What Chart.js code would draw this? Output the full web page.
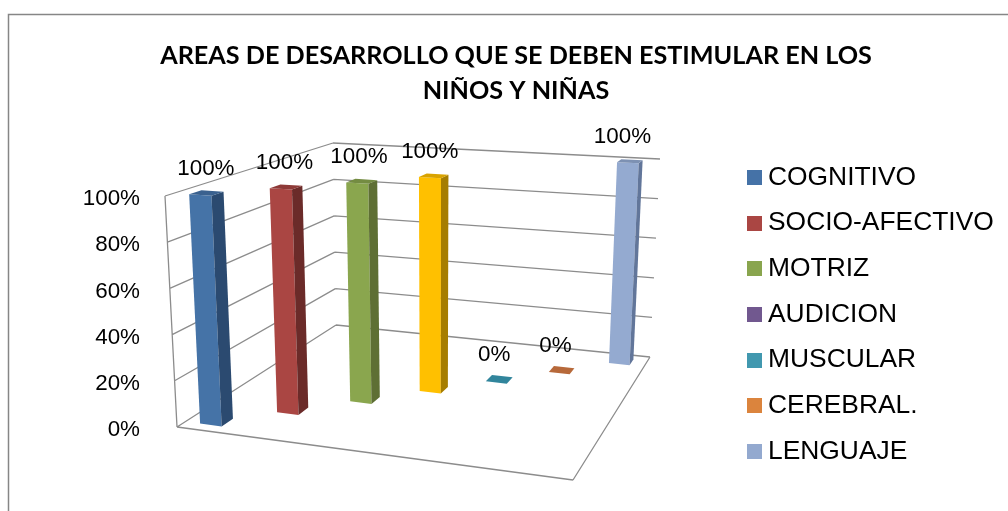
<!DOCTYPE html>
<html><head><meta charset="utf-8">
<style>html,body{margin:0;padding:0;background:#fff}canvas{display:block}</style>
<script src="https://cdn.jsdelivr.net/npm/chart.js@4"></script>
</head><body>
<div style="width:1008px;height:511px"><canvas id="c" width="1008" height="511"></canvas></div>
<script>
const titleLines = ['AREAS DE DESARROLLO QUE SE DEBEN ESTIMULAR EN LOS', 'NIÑOS Y NIÑAS'];
const categories = ['Respuestas'];
const seriesNames = ['COGNITIVO', 'SOCIO-AFECTIVO', 'MOTRIZ', 'AUDICION', 'MUSCULAR', 'CEREBRAL.', 'LENGUAJE'];
const seriesValues = [100, 100, 100, 100, 0, 0, 100];
const legendColors = ['#4572A7', '#AA4643', '#89A54E', '#71588F', '#4198AF', '#DB843D', '#93A9CF'];
const frontColors = ['#4573A7', '#AA4643', '#8AA64E', '#FFC000', '#31859C', '#B7693A', '#94AAD0'];
const sideColors = ['#2B4A70', '#6B2B29', '#5E6F34', '#A67D00', '#245F70', '#8A4F2A', '#62769A'];
const topColors = ['#3A618F', '#8E3A38', '#748C42', '#D9A300', '#31859C', '#B7693A', '#7D91B3'];

// Projection of the flat plot on the 3D box (corner order: front-left, front-right, back-right, back-left)
const FLOOR = [[177, 427], [573, 480], [650, 357], [336, 325]];
const CEILING = [[165, 196], [581, 224], [660, 159], [333, 143]];
const HALF_DEPTH = 0.03;
const LABEL_RISE = 24;
const LABEL_DRIFT = 8;
const LEGEND_WIDTH = 273.5;

function homography(q) {
  const [[x0, y0], [x1, y1], [x2, y2], [x3, y3]] = q;
  const dx3 = x0 - x1 + x2 - x3, dy3 = y0 - y1 + y2 - y3;
  const dx1 = x1 - x2, dx2 = x3 - x2, dy1 = y1 - y2, dy2 = y3 - y2;
  const den = dx1 * dy2 - dx2 * dy1;
  const g = (dx3 * dy2 - dx2 * dy3) / den, h = (dx1 * dy3 - dx3 * dy1) / den;
  const a = x1 - x0 + g * x1, b = x3 - x0 + h * x3, c = x0;
  const d = y1 - y0 + g * y1, e = y3 - y0 + h * y3, f = y0;
  return (u, w) => {
    const s = g * u + h * w + 1;
    return [(a * u + b * w + c) / s, (d * u + e * w + f) / s];
  };
}
const floorMap = homography(FLOOR), ceilMap = homography(CEILING);
function project(u, w, t) {
  const p = floorMap(u, w), q = ceilMap(u, w);
  return [p[0] + (q[0] - p[0]) * t, p[1] + (q[1] - p[1]) * t];
}
function poly(ctx, pts, fill) {
  ctx.beginPath();
  pts.forEach((p, i) => i ? ctx.lineTo(p[0], p[1]) : ctx.moveTo(p[0], p[1]));
  ctx.closePath();
  ctx.fillStyle = fill;
  ctx.fill();
}
function seg(ctx, a, b) { ctx.moveTo(a[0], a[1]); ctx.lineTo(b[0], b[1]); }

function legendSwatch(color) {
  const s = document.createElement('canvas');
  s.width = 15; s.height = 15;
  const g = s.getContext('2d');
  g.fillStyle = color; g.fillRect(0, 0, 15, 15);
  return s;
}

const box3d = {
  id: 'box3d',
  beforeLayout(chart) {
    const legend = chart.legend;
    if (legend && !legend._fixedWidth) {
      const fit = legend.fit;
      legend.fit = function () { fit.call(this); this.width = LEGEND_WIDTH; };
      legend._fixedWidth = true;
    }
  },
  beforeDraw(chart) {
    const ctx = chart.ctx;
    ctx.save();
    ctx.strokeStyle = '#868686';
    ctx.lineWidth = 1.5;
    ctx.strokeRect(8.5, 14.5, 1100, 600);
    ctx.restore();
  },
  beforeDatasetsDraw(chart) {
    const ctx = chart.ctx, area = chart.chartArea, y = chart.scales.y;
    const W = area.right - area.left, H = area.bottom - area.top;
    ctx.save();
    ctx.strokeStyle = '#8C8C8C';
    ctx.lineWidth = 1.3;
    ctx.beginPath();
    y.ticks.forEach(tk => {
      const t = (area.bottom - y.getPixelForValue(tk.value)) / H;
      seg(ctx, project(0, 0, t), project(0, 1, t));
      seg(ctx, project(0, 1, t), project(1, 1, t));
    });
    seg(ctx, project(0, 0, 0), project(0, 0, 1));
    seg(ctx, project(0, 0, 0), project(1, 0, 0));
    seg(ctx, project(1, 0, 0), project(1, 1, 0));
    ctx.stroke();

    chart.data.datasets.forEach((ds, i) => {
      const el = chart.getDatasetMeta(i).data[0];
      const c = (el.x - area.left) / W;
      const hw = el.width / 2 / W;
      const u0 = c - hw, u1 = c + hw, w0 = c - HALF_DEPTH, w1 = c + HALF_DEPTH;
      const t = (el.base - el.y) / H;
      if (t > 0) {
        poly(ctx, [project(u0, w0, 0), project(u1, w0, 0), project(u1, w0, t), project(u0, w0, t)], frontColors[i]);
        poly(ctx, [project(u1, w0, 0), project(u1, w1, 0), project(u1, w1, t), project(u1, w0, t)], sideColors[i]);
      }
      poly(ctx, [project(u0, w0, t), project(u1, w0, t), project(u1, w1, t), project(u0, w1, t)], topColors[i]);
      const top = project(c, c, t);
      ctx.fillStyle = '#000';
      ctx.font = '22.4px "Liberation Sans"';
      ctx.textAlign = 'center';
      ctx.textBaseline = 'middle';
      ctx.fillText(ds.data[0] + '%', top[0] - LABEL_DRIFT * c, top[1] - LABEL_RISE);
    });
    ctx.restore();
    return false;
  }
};

new Chart(document.getElementById('c'), {
  type: 'bar',
  data: {
    labels: categories,
    datasets: seriesNames.map((n, i) => ({ label: n, data: [seriesValues[i]], backgroundColor: legendColors[i] }))
  },
  options: {
    responsive: false,
    animation: false,
    categoryPercentage: 1,
    barPercentage: 0.42,
    layout: { padding: { left: 24, right: 0, top: 0, bottom: 27 } },
    plugins: {
      tooltip: { enabled: false },
      title: {
        display: true,
        text: titleLines,
        color: '#000',
        font: { family: 'Lato', weight: 'bold', size: 25.2, lineHeight: 1.39 },
        padding: { top: 38, bottom: 89 }
      },
      legend: {
        position: 'right',
        align: 'end',
        labels: {
          color: '#000',
          font: { family: '"Liberation Sans"', size: 26.4 },
          boxWidth: 1,
          usePointStyle: true,
          padding: 19.3,
          generateLabels(chart) {
            return chart.data.datasets.map((d, i) => ({
              text: d.label, fontColor: '#000', datasetIndex: i, lineWidth: 0,
              pointStyle: legendSwatch(d.backgroundColor)
            }));
          }
        }
      }
    },
    scales: {
      x: {
        grid: { display: false }, border: { display: false },
        ticks: { display: false },
        afterFit(s) { s.height = 56; }
      },
      y: {
        min: 0, max: 100,
        grid: { display: false }, border: { display: false },
        ticks: { stepSize: 20, color: '#000', padding: 2, labelOffset: 2, font: { family: '"Liberation Sans"', size: 22.4 }, callback: v => v + '%' },
        afterFit(s) { s.width = 126; }
      }
    }
  },
  plugins: [box3d]
});
</script>
</body></html>
